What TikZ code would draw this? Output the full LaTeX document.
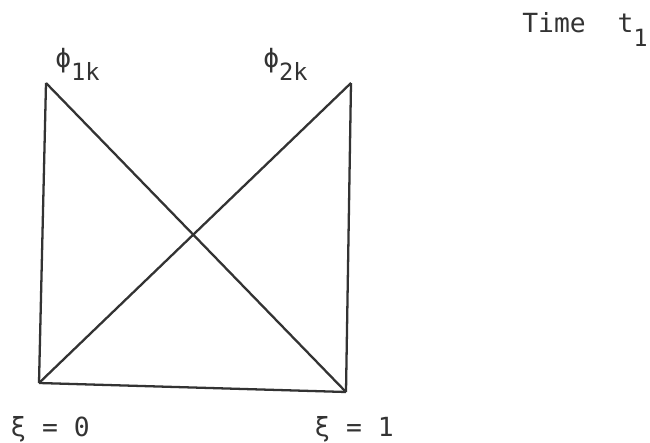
\documentclass[tikz,border=0pt]{standalone}
\usepackage{fontspec}
\setmonofont{DejaVu Sans Mono}
\newcommand{\lowsub}[2]{{\fontsize{13.5}{13.5}\selectfont\raisebox{-#1}{#2}}}
\begin{document}
\begin{tikzpicture}[x=0.02cm, y=-0.02cm,
    edge/.style={line width=1.3pt, black!80},
    lbl/.style={font=\ttfamily\fontsize{15}{15}\selectfont, text=black!80, inner sep=0pt}]
    \useasboundingbox (0,0) rectangle (650,443);

    % Eckpunkte des Elements
    \coordinate (p1) at (46,83);
    \coordinate (p2) at (351,83);
    \coordinate (q1) at (39,383);
    \coordinate (q2) at (346,392);

    % Rand
    \draw[edge] (q1) -- (p1);
    \draw[edge] (q2) -- (p2);
    \draw[edge] (q1) -- (q2);

    % Basisfunktionen
    \draw[edge] (p1) -- (q2);
    \draw[edge] (q1) -- (p2);

    % Beschriftung
    \node[lbl, anchor=base west] (phione) at (55,67) {ϕ\lowsub{7.5pt}{1k}};
    \node[lbl, anchor=base west] (phitwo) at (263,67) {ϕ\lowsub{7.5pt}{2k}};
    \node[lbl, anchor=base west] (time) at (522,32) {Time\ \ t\lowsub{8.5pt}{1}};
    \node[lbl, anchor=base west] (xizero) at (10,436) {ξ = 0};
    \node[lbl, anchor=base west] (xione) at (314,436) {ξ = 1};
\end{tikzpicture}
\end{document}
